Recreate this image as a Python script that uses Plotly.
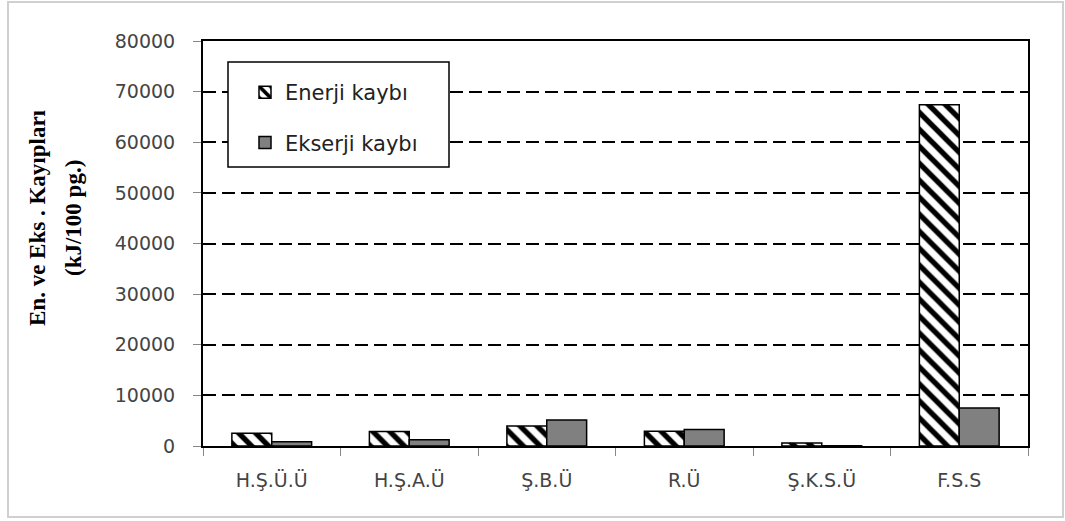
import plotly.graph_objects as go

# Kayıp değerleri (kJ/100 pg.)
categories = ["H.Ş.Ü.Ü", "H.Ş.A.Ü", "Ş.B.Ü", "R.Ü", "Ş.K.S.Ü", "F.S.S"]
enerji_kaybi = [2500, 2850, 3950, 2900, 600, 67400]
ekserji_kaybi = [850, 1250, 5150, 3250, 60, 7500]
y_ticks = [0, 10000, 20000, 30000, 40000, 50000, 60000, 70000, 80000]
y_ticktext = [str(v) for v in y_ticks]

W, H = 1065, 521
ML, MR, MT, MB = 203, 37, 41, 75
PW, PH = W - ML - MR, H - MT - MB

def px_x(x):
    return (x - ML) / PW

def px_y(y):
    return (H - MB - y) / PH

tick_font = dict(family="DejaVu Sans", size=19, color="#444444")
title_font = dict(family="Liberation Serif", size=23, color="black")

fig = go.Figure()
fig.add_trace(go.Bar(
    name="Enerji kaybı", x=categories, y=enerji_kaybi,
    marker=dict(color="white", line=dict(color="black", width=1.5),
                pattern=dict(shape="\\", fgcolor="black", bgcolor="white",
                             size=12, solidity=0.45, fgopacity=1)),
    legendgroup="a",
))
fig.add_trace(go.Bar(
    name="Ekserji kaybı", x=categories, y=ekserji_kaybi,
    marker=dict(color="#808080", line=dict(color="black", width=1.5)),
    legendgroup="b",
))

shapes = [
    # outer frame
    dict(type="rect", xref="paper", yref="paper",
         x0=px_x(8), x1=px_x(1063), y0=px_y(517), y1=px_y(2),
         line=dict(color="#d0d0d0", width=2), fillcolor="rgba(0,0,0,0)", layer="below"),
    # legend box
    dict(type="rect", xref="paper", yref="paper",
         x0=px_x(228), x1=px_x(449), y0=px_y(167), y1=px_y(62),
         line=dict(color="black", width=1.5), fillcolor="white", layer="above"),
]

fig.update_layout(
    width=W, height=H,
    margin=dict(l=ML, r=MR, t=MT, b=MB),
    paper_bgcolor="white", plot_bgcolor="white",
    barmode="group", bargap=0.42, bargroupgap=0,
    shapes=shapes,
    showlegend=True,
    legend=dict(x=px_x(245), y=px_y(72), xanchor="left", yanchor="top",
                bgcolor="rgba(0,0,0,0)", borderwidth=0,
                font=dict(family="DejaVu Sans", size=21, color="#222222"),
                tracegroupgap=20, traceorder="grouped"),
    xaxis=dict(showline=True, linecolor="black", linewidth=2, mirror=True,
               ticks="outside", tickson="boundaries", ticklen=8, tickcolor="#888888",
               tickfont=tick_font, ticklabelstandoff=16, showgrid=False),
    yaxis=dict(range=[0, 80000], tickvals=y_ticks, ticktext=y_ticktext,
               showline=True, linecolor="black",
               linewidth=2, mirror=True, ticks="outside", ticklen=8, tickcolor="#888888",
               tickfont=tick_font, ticklabelstandoff=14,
               showgrid=True, gridcolor="black", gridwidth=1.5,
               griddash="13px,6px", zeroline=False),
    annotations=[
        dict(text="<b>En. ve Eks . Kayıpları</b>",
             xref="paper", yref="paper", x=px_x(38), y=px_y(218),
             xanchor="center", yanchor="middle",
             showarrow=False, textangle=-90, font=title_font),
        dict(text="<b>(kJ/100 pg.)</b>",
             xref="paper", yref="paper", x=px_x(74), y=px_y(218),
             xanchor="center", yanchor="middle",
             showarrow=False, textangle=-90, font=title_font),
    ],
)

fig.write_html("out.html")
